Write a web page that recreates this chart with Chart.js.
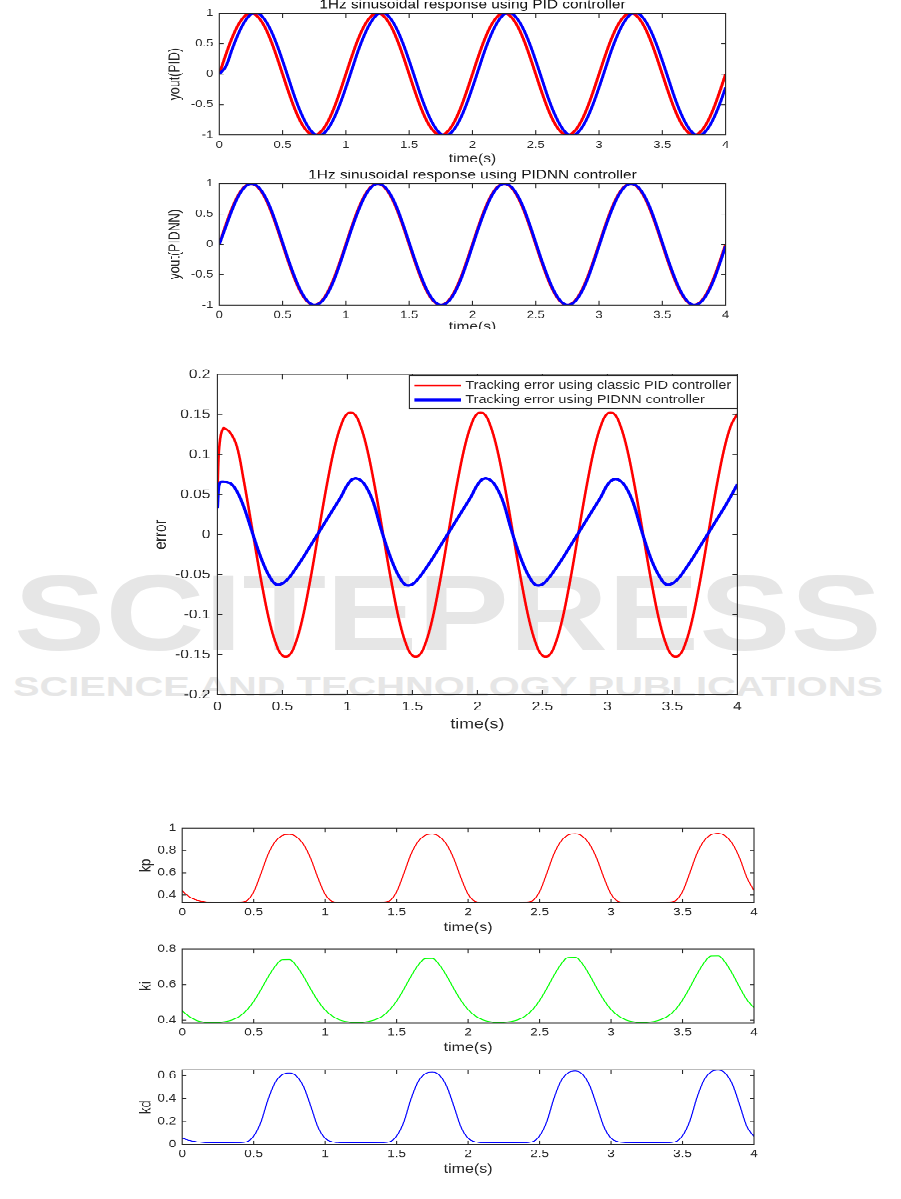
<!DOCTYPE html>
<html>
<head>
<meta charset="utf-8">
<title>PID vs PIDNN tracking</title>
<script src="https://cdn.jsdelivr.net/npm/chart.js@4.4.1/dist/chart.umd.min.js"></script>
<style>
  html, body { margin: 0; padding: 0; background: #fff; overflow: hidden; width: 901px; height: 1199px; }
  #mark { position: absolute; left: 0; top: 0; }
  #page { position: absolute; left: 0; top: 0; width: 901px; height: 1499px; transform: scaleY(0.8); transform-origin: 0 0; }
  #figTop { position: absolute; left: 0; top: 0; width: 901px; height: 411px; overflow: hidden; }
  .box { position: absolute; left: 0; width: 901px; }
</style>
</head>
<body>
<svg id="mark" width="901" height="1199">
  <text x="14" y="650" font-family="Liberation Sans, Arial, sans-serif" font-weight="bold" font-size="107" fill="#e6e6e6" textLength="868" lengthAdjust="spacingAndGlyphs">SCITEPRESS</text>
  <text x="13" y="696" font-family="Liberation Sans, Arial, sans-serif" font-weight="bold" font-size="27" fill="#e6e6e6" textLength="870" lengthAdjust="spacingAndGlyphs">SCIENCE AND TECHNOLOGY PUBLICATIONS</text>
</svg>
<div id="page">
  <div id="figTop">
    <div class="box"><canvas id="chartPid"></canvas></div>
    <div class="box"><canvas id="chartPidnn"></canvas></div>
  </div>
  <div class="box"><canvas id="chartErr"></canvas></div>
  <div class="box"><canvas id="chartKp"></canvas></div>
  <div class="box"><canvas id="chartKi"></canvas></div>
  <div class="box"><canvas id="chartKd"></canvas></div>
</div>
<script>
// sample grid, 0..4 s every 0.05 s
const time = Array.from({length: 81}, (_, i) => Math.round(i * 5) / 100);
const errHeadTime = [0, 0.01, 0.02, 0.03, 0.04];
const errTime = errHeadTime.concat(time.slice(1));

const timeTicks = [0, 0.5, 1, 1.5, 2, 2.5, 3, 3.5, 4];
const youtTicks = [-1, -0.5, 0, 0.5, 1];
const errTicks = [-0.2, -0.15, -0.1, -0.05, 0, 0.05, 0.1, 0.15, 0.2];
const kpTicks = [0.4, 0.6, 0.8, 1];
const kiTicks = [0.4, 0.6, 0.8];
const kdTicks = [0, 0.2, 0.4, 0.6];

// reference 1Hz sine (red in both top plots)
const yRef = [
  0, 0.31, 0.59, 0.81, 0.95, 1, 0.95, 0.81, 0.59, 0.31, 0, -0.31, -0.59, -0.81, -0.95, -1, -0.95, -0.81, -0.59, -0.31,
  0, 0.31, 0.59, 0.81, 0.95, 1, 0.95, 0.81, 0.59, 0.31, 0, -0.31, -0.59, -0.81, -0.95, -1, -0.95, -0.81, -0.59, -0.31,
  0, 0.31, 0.59, 0.81, 0.95, 1, 0.95, 0.81, 0.59, 0.31, 0, -0.31, -0.59, -0.81, -0.95, -1, -0.95, -0.81, -0.59, -0.31,
  0, 0.31, 0.59, 0.81, 0.95, 1, 0.95, 0.81, 0.59, 0.31, 0, -0.31, -0.59, -0.81, -0.95, -1, -0.95, -0.81, -0.59, -0.31,
  0
];
const youtPid = [
  0, 0.12, 0.40, 0.66, 0.86, 0.98, 1.00, 0.92, 0.75, 0.51, 0.22, -0.09, -0.40, -0.66, -0.86, -0.98, -1.00, -0.92, -0.75, -0.51,
  -0.22, 0.09, 0.40, 0.66, 0.86, 0.98, 1.00, 0.92, 0.75, 0.51, 0.22, -0.09, -0.40, -0.66, -0.86, -0.98, -1.00, -0.92, -0.75, -0.51,
  -0.22, 0.09, 0.40, 0.66, 0.86, 0.98, 1.00, 0.92, 0.75, 0.51, 0.22, -0.09, -0.40, -0.66, -0.86, -0.98, -1.00, -0.92, -0.75, -0.51,
  -0.22, 0.09, 0.40, 0.66, 0.86, 0.98, 1.00, 0.92, 0.75, 0.51, 0.22, -0.09, -0.40, -0.66, -0.86, -0.98, -1.00, -0.92, -0.75, -0.51,
  -0.22
];
const youtPidnn = [
  0, 0.28, 0.56, 0.79, 0.94, 1.00, 0.96, 0.83, 0.62, 0.34, 0.03, -0.28, -0.56, -0.79, -0.94, -1.00, -0.96, -0.83, -0.62, -0.34,
  -0.03, 0.28, 0.56, 0.79, 0.94, 1.00, 0.96, 0.83, 0.62, 0.34, 0.03, -0.28, -0.56, -0.79, -0.94, -1.00, -0.96, -0.83, -0.62, -0.34,
  -0.03, 0.28, 0.56, 0.79, 0.94, 1.00, 0.96, 0.83, 0.62, 0.34, 0.03, -0.28, -0.56, -0.79, -0.94, -1.00, -0.96, -0.83, -0.62, -0.34,
  -0.03, 0.28, 0.56, 0.79, 0.94, 1.00, 0.96, 0.83, 0.62, 0.34, 0.03, -0.28, -0.56, -0.79, -0.94, -1.00, -0.96, -0.83, -0.62, -0.34,
  -0.03
];

// tracking errors, sampled on errTime
const errPid = [
  0.050, 0.100, 0.118, 0.127, 0.131,
  0.133, 0.127, 0.110, 0.070, 0.024, -0.024, -0.069, -0.108, -0.136, -0.151, -0.151, -0.136, -0.108, -0.069, -0.024, 0.024, 0.069, 0.108, 0.136, 0.151,
  0.151, 0.136, 0.108, 0.069, 0.024, -0.024, -0.069, -0.108, -0.136, -0.151, -0.151, -0.136, -0.108, -0.069, -0.024, 0.024, 0.069, 0.108, 0.136, 0.151,
  0.151, 0.136, 0.108, 0.069, 0.024, -0.024, -0.069, -0.108, -0.136, -0.151, -0.151, -0.136, -0.108, -0.069, -0.024, 0.024, 0.069, 0.108, 0.136, 0.151,
  0.151, 0.136, 0.108, 0.069, 0.024, -0.024, -0.069, -0.108, -0.136, -0.151, -0.151, -0.136, -0.108, -0.069, -0.024, 0.024, 0.069, 0.108, 0.136, 0.151
];
const errPidnn = [
  0.033, 0.060, 0.065, 0.066, 0.066,
  0.066, 0.064, 0.054, 0.036, 0.012, -0.013, -0.035, -0.052, -0.062, -0.061, -0.054, -0.043, -0.031, -0.018, -0.005, 0.008, 0.021, 0.034, 0.047, 0.062,
  0.070, 0.068, 0.058, 0.040, 0.012, -0.014, -0.036, -0.053, -0.063, -0.062, -0.054, -0.043, -0.031, -0.018, -0.005, 0.008, 0.021, 0.034, 0.047, 0.062,
  0.070, 0.068, 0.058, 0.040, 0.012, -0.014, -0.036, -0.053, -0.063, -0.062, -0.054, -0.043, -0.031, -0.018, -0.005, 0.008, 0.021, 0.034, 0.047, 0.062,
  0.069, 0.067, 0.057, 0.039, 0.012, -0.014, -0.036, -0.052, -0.062, -0.061, -0.054, -0.043, -0.031, -0.018, -0.005, 0.008, 0.021, 0.034, 0.048, 0.063
];

// PIDNN gains
const kp = [
  0.438, 0.384, 0.356, 0.343, 0.337, 0.335, 0.334, 0.335, 0.338, 0.349, 0.428, 0.589, 0.763, 0.878, 0.933, 0.945, 0.921, 0.852, 0.725, 0.553,
  0.407, 0.344, 0.335, 0.334, 0.334, 0.334, 0.334, 0.335, 0.338, 0.349, 0.429, 0.591, 0.765, 0.880, 0.935, 0.947, 0.923, 0.854, 0.727, 0.555,
  0.408, 0.344, 0.335, 0.334, 0.334, 0.334, 0.334, 0.335, 0.338, 0.350, 0.430, 0.593, 0.767, 0.883, 0.938, 0.950, 0.926, 0.856, 0.729, 0.556,
  0.409, 0.344, 0.335, 0.334, 0.334, 0.334, 0.334, 0.335, 0.338, 0.350, 0.431, 0.595, 0.770, 0.886, 0.941, 0.953, 0.929, 0.859, 0.731, 0.558,
  0.440
];
const ki = [
  0.452, 0.420, 0.399, 0.389, 0.385, 0.387, 0.392, 0.402, 0.421, 0.455, 0.505, 0.570, 0.641, 0.702, 0.739, 0.740, 0.704, 0.644, 0.573, 0.508,
  0.457, 0.423, 0.402, 0.392, 0.387, 0.387, 0.393, 0.403, 0.422, 0.457, 0.507, 0.573, 0.645, 0.708, 0.745, 0.746, 0.710, 0.649, 0.577, 0.511,
  0.459, 0.424, 0.403, 0.392, 0.387, 0.388, 0.393, 0.403, 0.423, 0.458, 0.510, 0.577, 0.650, 0.714, 0.752, 0.753, 0.716, 0.653, 0.580, 0.513,
  0.460, 0.425, 0.403, 0.392, 0.387, 0.388, 0.393, 0.404, 0.424, 0.459, 0.513, 0.581, 0.656, 0.721, 0.760, 0.761, 0.723, 0.659, 0.584, 0.515,
  0.470
];
const kd = [
  0.056, 0.036, 0.025, 0.019, 0.016, 0.015, 0.015, 0.016, 0.018, 0.024, 0.074, 0.193, 0.390, 0.540, 0.608, 0.623, 0.595, 0.502, 0.332, 0.151,
  0.055, 0.024, 0.018, 0.016, 0.015, 0.015, 0.015, 0.016, 0.018, 0.024, 0.075, 0.195, 0.395, 0.547, 0.616, 0.631, 0.603, 0.508, 0.336, 0.153,
  0.056, 0.024, 0.018, 0.016, 0.015, 0.015, 0.015, 0.016, 0.018, 0.025, 0.076, 0.198, 0.400, 0.554, 0.624, 0.640, 0.611, 0.515, 0.340, 0.155,
  0.056, 0.025, 0.018, 0.016, 0.015, 0.015, 0.015, 0.016, 0.018, 0.025, 0.077, 0.201, 0.405, 0.561, 0.632, 0.648, 0.619, 0.522, 0.344, 0.157,
  0.070
];

const FONT = "'Liberation Sans', Arial, sans-serif";
const INK = '#262626';
Chart.defaults.font.family = FONT;

function pts(xs, ys) {
  return xs.map((x, i) => ({x: x, y: ys[i]}));
}

// matlab style box with inward ticks on all four sides
const axesBox = {
  id: 'axesBox',
  afterDatasetsDraw(chart, args, opts) {
    const {ctx, chartArea: a, scales: {x, y}} = chart;
    const len = opts.tick;
    ctx.save();
    ctx.strokeStyle = INK;
    ctx.lineWidth = 1.1;
    ctx.beginPath();
    ctx.rect(a.left, a.top, a.right - a.left, a.bottom - a.top);
    x.ticks.forEach(t => {
      const px = x.getPixelForValue(t.value);
      ctx.moveTo(px, a.bottom); ctx.lineTo(px, a.bottom - len * 1.25);
      ctx.moveTo(px, a.top); ctx.lineTo(px, a.top + len * 1.25);
    });
    y.ticks.forEach(t => {
      const py = y.getPixelForValue(t.value);
      ctx.moveTo(a.left, py); ctx.lineTo(a.left + len, py);
      ctx.moveTo(a.right, py); ctx.lineTo(a.right - len, py);
    });
    ctx.stroke();
    ctx.restore();
  }
};

// legend box in the top right corner of the error plot
const errLegend = {
  id: 'errLegend',
  afterDatasetsDraw(chart, args, o) {
    const {ctx, chartArea: a} = chart;
    const x0 = a.right - o.w, y0 = a.top + o.dy;
    ctx.save();
    ctx.fillStyle = '#fff';
    ctx.fillRect(x0, y0, o.w, o.h);
    ctx.strokeStyle = INK;
    ctx.lineWidth = 1.1;
    ctx.strokeRect(x0, y0, o.w, o.h);
    ctx.font = o.size + 'px ' + FONT;
    ctx.textBaseline = 'middle';
    chart.data.datasets.forEach((ds, i) => {
      const yy = y0 + o.rows[i];
      ctx.strokeStyle = ds.borderColor;
      ctx.lineWidth = ds.borderWidth;
      ctx.beginPath();
      ctx.moveTo(x0 + o.lineFrom, yy);
      ctx.lineTo(x0 + o.lineTo, yy);
      ctx.stroke();
      ctx.fillStyle = INK;
      ctx.fillText(ds.label, x0 + o.textAt, yy);
    });
    ctx.restore();
  }
};

function plot(id, spec) {
  const canvas = document.getElementById(id);
  const head = spec.title ? spec.titleSize * 1.2 + 1.1 : spec.padTop;
  const wrap = canvas.parentNode;
  wrap.style.top = (spec.t - head) + 'px';
  wrap.style.height = (spec.b - spec.t + head + spec.xH) + 'px';

  const tickFont = {family: FONT, size: spec.tickSize};
  const labelFont = {family: FONT, size: spec.labelSize};

  return new Chart(canvas, {
    type: 'line',
    data: {
      datasets: spec.series.map(s => ({
        label: s.label,
        data: pts(s.x, s.y),
        borderColor: s.color,
        borderWidth: s.width,
        pointRadius: 0,
        tension: s.bell ? 0 : 0.4,
        cubicInterpolationMode: s.bell ? 'monotone' : 'default',
        order: s.order || 0
      }))
    },
    options: {
      responsive: true,
      maintainAspectRatio: false,
      animation: false,
      devicePixelRatio: 2,
      events: [],
      layout: {padding: {left: 0, right: 901 - spec.r, top: spec.title ? 0 : spec.padTop, bottom: 0}},
      plugins: {
        legend: {display: false},
        tooltip: {enabled: false},
        title: {
          display: !!spec.title,
          text: spec.title || '',
          fullSize: false,
          color: '#111',
          font: {family: FONT, size: spec.titleSize || 12, weight: 'normal'},
          padding: {top: 0, bottom: 1.1}
        },
        axesBox: {tick: spec.tick},
        errLegend: spec.legend || {}
      },
      scales: {
        x: {
          type: 'linear',
          min: 0,
          max: 4,
          grid: {display: false, drawTicks: false},
          border: {display: false},
          afterBuildTicks: s => { s.ticks = timeTicks.map(v => ({value: v})); },
          afterFit: s => { s.height = spec.xH; },
          ticks: {autoSkip: false, maxRotation: 0, padding: spec.xPad, color: INK, font: tickFont, callback: v => String(v)},
          title: {display: true, text: 'time(s)', color: INK, font: labelFont, padding: {top: 0, bottom: 0}}
        },
        y: {
          type: 'linear',
          min: spec.yMin,
          max: spec.yMax,
          grid: {display: false, drawTicks: false},
          border: {display: false},
          afterBuildTicks: s => { s.ticks = spec.yTicks.map(v => ({value: v})); },
          afterFit: s => { s.width = spec.l; },
          ticks: {autoSkip: false, padding: spec.yPad, color: INK, font: tickFont, callback: v => String(v)},
          title: {display: true, text: spec.yLabel, color: INK, font: labelFont,
                  padding: {top: spec.yLabelX - spec.labelSize * 0.6, bottom: 0}}
        }
      }
    },
    plugins: spec.legend ? [axesBox, errLegend] : [axesBox]
  });
}

const topCommon = {
  l: 219.3, r: 725.6, titleSize: 15.4, tickSize: 13, labelSize: 15.5,
  xPad: 5, yPad: 6, yLabelX: 175, tick: 4.5, yMin: -1, yMax: 1, yTicks: youtTicks
};
plot('chartPid', Object.assign({}, topCommon, {
  t: 16.6, b: 168.75, xH: 39.4,
  title: '1Hz sinusoidal response using PID controller', yLabel: 'yout(PID)',
  series: [
    {label: 'yd', x: time, y: yRef, color: '#ff0000', width: 3, order: 1},
    {label: 'yout', x: time, y: youtPid, color: '#0000ff', width: 3, order: 0}
  ]
}));
plot('chartPidnn', Object.assign({}, topCommon, {
  t: 229.1, b: 381.25, xH: 37,
  title: '1Hz sinusoidal response using PIDNN controller', yLabel: 'yout(PIDNN)',
  series: [
    {label: 'yd', x: time, y: yRef, color: '#ff0000', width: 3, order: 1},
    {label: 'yout', x: time, y: youtPidnn, color: '#0000ff', width: 3, order: 0}
  ]
}));

plot('chartErr', {
  t: 468.1, b: 868.1, l: 217.4, r: 737.4, padTop: 20, xH: 47.9,
  tickSize: 15.5, labelSize: 17.7, xPad: 6, yPad: 7, yLabelX: 161, tick: 5,
  yMin: -0.2, yMax: 0.2, yTicks: errTicks, yLabel: 'error',
  legend: {w: 328, h: 41, dy: 1.5, rows: [12.5, 30.4], lineFrom: 5, lineTo: 51.6, textAt: 56, size: 14.4},
  series: [
    {label: 'Tracking error using classic PID controller', x: errTime, y: errPid, color: '#ff0000', width: 2.6, order: 1},
    {label: 'Tracking error using PIDNN controller', x: errTime, y: errPidnn, color: '#0000ff', width: 3.2, order: 0}
  ]
});

const gainCommon = {
  l: 182.2, r: 754, padTop: 12, xH: 40.2, tickSize: 13.5, labelSize: 16,
  xPad: 3.8, yPad: 6, yLabelX: 146, tick: 4
};
plot('chartKp', Object.assign({}, gainCommon, {
  t: 1033.4, b: 1128.4, yMin: 0.329, yMax: 1, yTicks: kpTicks, yLabel: 'kp',
  series: [{label: 'kp', x: time, y: kp, color: '#ff0000', width: 1.2, bell: true}]
}));
plot('chartKi', Object.assign({}, gainCommon, {
  t: 1184.1, b: 1279.1, yMin: 0.383, yMax: 0.8, yTicks: kiTicks, yLabel: 'ki',
  series: [{label: 'ki', x: time, y: ki, color: '#00ff00', width: 1.2, bell: true}]
}));
plot('chartKd', Object.assign({}, gainCommon, {
  t: 1335.4, b: 1430.4, yMin: 0, yMax: 0.651, yTicks: kdTicks, yLabel: 'kd',
  series: [{label: 'kd', x: time, y: kd, color: '#0000ff', width: 1.2, bell: true}]
}));
</script>
</body>
</html>
